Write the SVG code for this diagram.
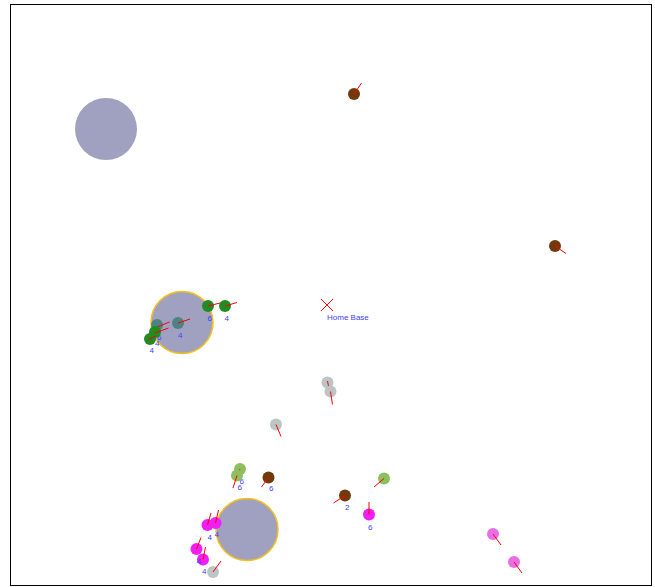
<svg xmlns="http://www.w3.org/2000/svg" width="655" height="587" viewBox="0 0 655 587">
<style>
.zone{fill:#a0a0c0}
.zs{stroke:#f5c21a;stroke-width:1.5}
.ag{stroke:none}
.hd{stroke:#ff0000;stroke-width:1;fill:none}
.lb{font-family:"Liberation Sans",Arial,sans-serif;font-size:8px;fill:#4040ff}
.green{fill:#228b22}
.teal{fill:#4e8283}
.brown{fill:#713a0c}
.lgreen{fill:#8fbe5f}
.gray{fill:#bcc5c5}
.mag{fill:#f01ef0}
.vio{fill:#e96ee5}
</style>
<rect x="0" y="0" width="655" height="587" fill="#ffffff"/>
<rect x="10.5" y="4.5" width="641" height="581" fill="#ffffff" stroke="#000000" stroke-width="1"/>
<g id="zones">
<g id="zone1"><circle class="zone" cx="106" cy="129" r="31"/></g>
<g id="zone2"><circle class="zone zs" cx="182" cy="322.5" r="31"/></g>
<g id="zone3"><circle class="zone zs" cx="247" cy="529.5" r="31"/></g>
</g>
<g id="home">
<path d="M321,299 L333,311 M333,299 L321,311" stroke="#ff0000" stroke-width="1" fill="none"/>
<text class="lb" x="327" y="320">Home Base</text>
</g>
<g id="agents">
<g id="a1"><circle class="ag brown" cx="354" cy="94" r="6"/><line class="hd" x1="354" y1="94" x2="361.5" y2="83"/></g>
<g id="a2"><circle class="ag brown" cx="555" cy="246" r="6"/><line class="hd" x1="555" y1="246" x2="566" y2="253.5"/></g>
<g id="a3"><circle class="ag vio" cx="493" cy="534" r="6"/><line class="hd" x1="493" y1="534" x2="501" y2="545"/></g>
<g id="a4"><circle class="ag vio" cx="514" cy="562" r="6"/><line class="hd" x1="514" y1="562" x2="522" y2="573"/></g>
<g id="a5"><circle class="ag gray" cx="327.5" cy="382.5" r="6"/><line class="hd" x1="327.5" y1="381" x2="330" y2="394"/></g>
<g id="a6"><circle class="ag gray" cx="330.5" cy="391.5" r="6"/><line class="hd" x1="330.5" y1="391.5" x2="332.5" y2="404.5"/></g>
<g id="a7"><circle class="ag gray" cx="276" cy="424.5" r="6"/><line class="hd" x1="276" y1="424.5" x2="281" y2="436.5"/></g>
<g id="a8"><circle class="ag lgreen" cx="384" cy="478.5" r="6"/><line class="hd" x1="384" y1="478.5" x2="374" y2="487"/></g>
<g id="a9"><circle class="ag brown" cx="345" cy="495.5" r="6"/><line class="hd" x1="345" y1="495.5" x2="333.5" y2="503"/><text class="lb" x="345" y="510">2</text></g>
<g id="a10"><circle class="ag mag" cx="369" cy="514.5" r="6"/><line class="hd" x1="369" y1="514.5" x2="369" y2="502"/><text class="lb" x="368" y="530">6</text></g>
<g id="a11"><circle class="ag lgreen" cx="240" cy="469" r="6"/><line class="hd" x1="240" y1="469" x2="235" y2="481"/><text class="lb" x="239.5" y="483.5">6</text></g>
<g id="a12"><circle class="ag lgreen" cx="237" cy="475.5" r="6"/><line class="hd" x1="237" y1="475.5" x2="233" y2="488"/><text class="lb" x="237.5" y="490">6</text></g>
<g id="a13"><circle class="ag brown" cx="268.5" cy="477.5" r="6"/><line class="hd" x1="268.5" y1="477.5" x2="261.5" y2="487"/><text class="lb" x="269" y="491">6</text></g>
<g id="a14"><circle class="ag mag" cx="207.5" cy="525" r="6"/><line class="hd" x1="207.5" y1="525" x2="211" y2="513"/><text class="lb" x="207.5" y="540">4</text></g>
<g id="a15"><circle class="ag mag" cx="215.5" cy="523" r="6"/><line class="hd" x1="215.5" y1="523" x2="218.5" y2="510"/><text class="lb" x="214.5" y="537">4</text></g>
<g id="a16"><circle class="ag mag" cx="196.5" cy="549" r="6"/><line class="hd" x1="196.5" y1="549" x2="201" y2="537.5"/></g>
<g id="a17"><circle class="ag mag" cx="203" cy="559.5" r="6"/><line class="hd" x1="203" y1="559.5" x2="205.5" y2="547"/></g>
<g id="a18"><circle class="ag gray" cx="213" cy="572" r="6"/><line class="hd" x1="213" y1="572" x2="221" y2="561"/></g>
<g id="a19"><circle class="ag teal" cx="157" cy="325" r="6"/><line class="hd" x1="157" y1="327" x2="169.5" y2="322"/><text class="lb" x="157" y="340">6</text></g>
<g id="a20"><circle class="ag teal" cx="178" cy="323" r="6"/><line class="hd" x1="178" y1="323" x2="190" y2="319"/><text class="lb" x="178" y="337.5">4</text></g>
<g id="a21"><circle class="ag green" cx="155" cy="332" r="6"/><line class="hd" x1="155" y1="333" x2="168.5" y2="328"/><text class="lb" x="155" y="345.5">4</text></g>
<g id="a22"><circle class="ag green" cx="150" cy="339" r="6"/><line class="hd" x1="148.5" y1="339.5" x2="156" y2="336"/><text class="lb" x="149.5" y="353">4</text></g>
<g id="a23"><circle class="ag green" cx="208" cy="306" r="6"/><line class="hd" x1="208" y1="306" x2="220" y2="303"/><text class="lb" x="207.5" y="320.5">6</text></g>
<g id="a24"><circle class="ag green" cx="225" cy="306" r="6"/><line class="hd" x1="225" y1="306" x2="237" y2="302.5"/><text class="lb" x="224.5" y="320.5">4</text></g>
</g>
<g id="agent-labels-over">
<text class="lb" x="196.5" y="563.5">4</text>
<text class="lb" x="202" y="574">4</text>
</g>
</svg>
